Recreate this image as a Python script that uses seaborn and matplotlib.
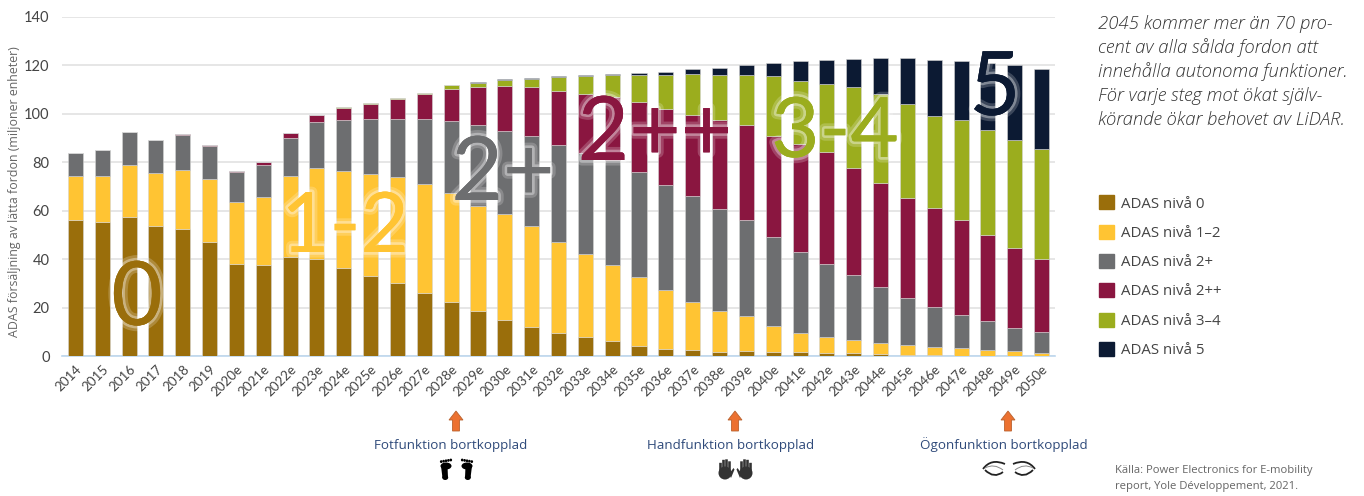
import numpy as np
import seaborn as sns
import matplotlib.pyplot as plt
import matplotlib.patheffects as pe
from matplotlib.patches import Ellipse, Polygon, FancyBboxPatch, Rectangle
from matplotlib.path import Path
from matplotlib.patches import PathPatch

years = ['2014', '2015', '2016', '2017', '2018', '2019', '2020e', '2021e', '2022e', '2023e',
         '2024e', '2025e', '2026e', '2027e', '2028e', '2029e', '2030e', '2031e', '2032e', '2033e',
         '2034e', '2035e', '2036e', '2037e', '2038e', '2039e', '2040e', '2041e', '2042e', '2043e',
         '2044e', '2045e', '2046e', '2047e', '2048e', '2049e', '2050e']

adas_0 = [56, 55.5, 57.5, 53.5, 52.5, 47, 38, 37.5, 41, 40, 36.3, 33, 30, 26.2, 22.3, 18.6, 15, 12.1, 9.5,
          7.8, 6.2, 4.1, 2.9, 2.3, 1.8, 1.9, 1.6, 1.6, 1.2, 1.2, 0.9, 0.6, 0.6, 0.2, 0.1, 0.1, 0]
adas_12 = [18.5, 19, 21.5, 22, 24.5, 26, 25.5, 28, 33.5, 37.7, 40.2, 42, 43.8, 44.7, 45, 43.4, 43.7, 41.7, 37.7,
           34.5, 31.4, 28.5, 24.4, 20.2, 16.9, 14.8, 10.9, 7.8, 6.5, 5.3, 4.3, 3.8, 3.3, 3, 2.4, 1.9, 1.3]
adas_2p = [9.5, 10.5, 13.7, 13.5, 14.3, 13.7, 12.5, 13.5, 15.5, 18.8, 20.8, 22.7, 24, 26.9, 29.7, 33.2, 34.3, 37, 39.8,
           41.4, 43.4, 43.4, 43.4, 43.5, 42.2, 39.3, 36.8, 33.6, 30.3, 26.8, 23.3, 19.6, 16.4, 13.8, 12, 9.6, 8.6]
adas_2pp = [0, 0, 0, 0.4, 0.4, 0.6, 0.6, 1.3, 2.3, 3.2, 5.2, 6.3, 8.2, 10.2, 13.3, 15.7, 18.3, 20.1, 22.6,
            24.6, 26, 29, 31.3, 33.6, 36.6, 39.2, 41.7, 44.6, 46.4, 44.4, 43.1, 41.1, 40.7, 39, 35.5, 33.2, 30]
adas_34 = [0, 0, 0, 0, 0, 0, 0, 0, 0, 0, 0.3, 0.4, 0.5, 0.8, 1.5, 2, 2.7, 3.7, 5.8,
           7.5, 9.2, 11.2, 14.2, 16.8, 18.5, 20.9, 24.5, 26, 28.1, 33.2, 36.4, 39.1, 38.2, 41.6, 43.2, 44.3, 45.7]
adas_5 = [0, 0, 0, 0, 0, 0, 0, 0, 0, 0, 0, 0, 0, 0, 0, 0.3, 0.2, 0.2, 0.2,
          0.2, 0.3, 0.8, 1.1, 2, 3, 4, 5.5, 8.2, 9.8, 11.7, 15.1, 18.7, 23.1, 24.2, 27.8, 30.9, 32.9]

series = [adas_0, adas_12, adas_2p, adas_2pp, adas_34, adas_5]
labels = ['ADAS nivå 0', 'ADAS nivå 1–2', 'ADAS nivå 2+', 'ADAS nivå 2++', 'ADAS nivå 3–4', 'ADAS nivå 5']
colors = ['#9A6E0B', '#FFC433', '#6D6E70', '#8A1640', '#9BAD1E', '#0C1A33']
yticks = [0, 20, 40, 60, 80, 100, 120, 140]

sns.set_theme(style='white')
plt.rcParams['font.family'] = ['Open Sans', 'DejaVu Sans']

W, H = 1364, 496
fig = plt.figure(figsize=(W / 100, H / 100), dpi=100)
ax = fig.add_axes([62 / W, 1 - 356 / H, 993 / W, 339 / H])

# stacked bars
bottom = np.zeros(len(years))
for vals, lab, col in zip(series, labels, colors):
    sns.barplot(x=years, y=vals, bottom=bottom, color=col, saturation=1, width=0.56, label=lab,
                edgecolor='#d5d5d5', linewidth=0.4, legend=False, ax=ax, zorder=3)
    bottom = bottom + np.array(vals)

ax.set_xlim(-0.5, 36.5)
ax.set_ylim(0, 140)
ax.set_yticks(yticks)
ax.yaxis.grid(True, color='#E2E2E2', lw=1.2, zorder=0)
ax.xaxis.grid(False)
ax.set_axisbelow(True)
sns.despine(ax=ax, left=True, top=True, right=True)
ax.spines['bottom'].set_color('#BDD7EE')
ax.spines['bottom'].set_linewidth(1.2)
ax.tick_params(axis='both', length=0)
ax.tick_params(axis='y', labelsize=10.5, labelcolor='#444444', pad=9)
ax.tick_params(axis='x', labelsize=9.6, labelcolor='#444444', pad=5)
for t in ax.get_yticklabels():
    t.set_family('Lato')
for t in ax.get_xticklabels():
    t.set_family('Lato')
    t.set_rotation(45)
    t.set_ha('right')
    t.set_rotation_mode('anchor')
ax.set_xlabel('')
ax.set_ylabel('')

handles = [Rectangle((0, 0), 1, 1, color=c) for c in colors]
fig.legend(handles, labels, loc='upper left', bbox_to_anchor=(1094 / W, 1 - 191 / H), frameon=False,
           fontsize=10.8, labelcolor='#444444', handlelength=1.05, handleheight=1.05,
           handletextpad=0.47, labelspacing=0.88, borderpad=0.3, borderaxespad=0)

# overlay in pixel coordinates for annotations
ov = fig.add_axes([0, 0, 1, 1], facecolor='none')
ov.set_xlim(0, W)
ov.set_ylim(H, 0)
ov.axis('off')

ov.text(15, 191.5, 'ADAS försäljning av lätta fordon (miljoner enheter)', rotation=90, ha='center', va='center',
        fontsize=8.9, color='#666666')

# big level labels with a pale glow, placed by their baseline
big = [('0', 137, 325, 0, 64), ('1-2', 345, 252, 1, 60), ('2+', 503, 200, 2, 64), ('2++', 655, 160, 3, 64),
       ('3-4', 835, 157, 4, 60), ('5', 995, 115, 5, 64)]
for txt, x, y, i, size in big:
    ov.text(x, y, txt, ha='center', va='baseline', fontsize=size, color=colors[i], family='Lato',
            path_effects=[pe.withStroke(linewidth=8, foreground='white', alpha=0.2),
                          pe.withStroke(linewidth=4, foreground='white', alpha=0.35),
                          pe.Normal()])

# right hand text
quote = ['2045 kommer mer än 70 pro-', 'cent av alla sålda fordon att', 'innehålla autonoma funktioner.',
         'För varje steg mot ökat själv-', 'körande ökar behovet av LiDAR.']
for i, line in enumerate(quote):
    ov.text(1098, 24 + i * 24, line, style='italic', weight=300, fontsize=13.3, color='#333333',
            ha='left', va='center')
ov.text(1115, 470, 'Källa: Power Electronics for E-mobility', fontsize=8.1, color='#666666', va='center')
ov.text(1115, 486, 'report, Yole Développement, 2021.', fontsize=8.1, color='#666666', va='center')

# arrows and captions
for x, cx, cap in [(456, 451, 'Fotfunktion bortkopplad'), (735, 731, 'Handfunktion bortkopplad'),
                   (1008, 1004, 'Ögonfunktion bortkopplad')]:
    ov.add_patch(Polygon([(x, 411), (x + 7, 420), (x + 3.5, 420), (x + 3.5, 431), (x - 3.5, 431), (x - 3.5, 420),
                          (x - 7, 420)], closed=True, fc='#EC7130', ec='#B9622F', lw=0.6))
    ov.text(cx, 445, cap, ha='center', va='center', fontsize=9.65, color='#2F4A7A')


def foot(x, flip):
    # ball, arch and heel, toes on the inner side
    s = -1 if flip else 1
    c = 'black'
    ov.add_patch(Ellipse((x, 466), 11, 7, fc=c, ec='none'))
    ov.add_patch(Polygon([(x - 5 * s, 466), (x + 1.5 * s, 466), (x + 2 * s, 478), (x - 3.5 * s, 478)], fc=c, ec='none'))
    ov.add_patch(Ellipse((x - 0.8 * s, 477.5), 6, 5, fc=c, ec='none'))
    for k in range(5):
        ov.add_patch(Ellipse((x + (4.8 - 2.4 * k) * s, 460 + 0.4 * k), 2.6, 2.8, fc=c, ec='none'))


def hand(x, flip):
    s = -1 if flip else 1
    c = '#333333'
    ov.add_patch(Ellipse((x, 473), 13, 13, fc=c, ec='none'))
    for dx, top in [(-4.5, 463), (-1.5, 460), (1.5, 459.5), (4.5, 461.5)]:
        ov.add_patch(FancyBboxPatch((x + dx * s - 1.1, top), 2.2, 12, boxstyle='round,pad=0.2', fc=c, ec='none'))
    ov.add_patch(Polygon([(x + 4 * s, 474), (x + 8.5 * s, 468), (x + 9.5 * s, 469.5), (x + 6 * s, 478)], fc=c, ec='none'))


def eye(x, flip):
    s = -1 if flip else 1
    # brow, upper lid and lashes
    brow = Path([(x - 11 * s, 469), (x - 3 * s, 458), (x + 11 * s, 464)], [Path.MOVETO, Path.CURVE3, Path.CURVE3])
    ov.add_patch(PathPatch(brow, fc='none', ec='#222222', lw=1.3))
    lid = Path([(x - 9 * s, 468), (x, 463), (x + 9 * s, 470)], [Path.MOVETO, Path.CURVE3, Path.CURVE3])
    ov.add_patch(PathPatch(lid, fc='none', ec='#888888', lw=0.7))
    lash = Path([(x - 9 * s, 470), (x, 479), (x + 9 * s, 472)], [Path.MOVETO, Path.CURVE3, Path.CURVE3])
    ov.add_patch(PathPatch(lash, fc='none', ec='#222222', lw=1.3))


foot(446, False)
foot(467, True)
hand(725, False)
hand(746, True)
eye(994, False)
eye(1024, True)

plt.savefig('out.png', dpi=100)
